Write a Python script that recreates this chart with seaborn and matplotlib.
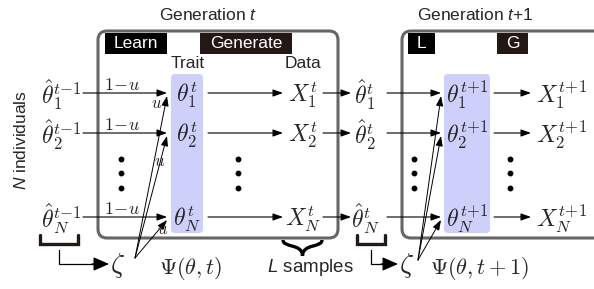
import matplotlib
matplotlib.use("Agg")
import matplotlib.pyplot as plt
import seaborn as sns
from matplotlib.patches import FancyBboxPatch, Rectangle, PathPatch
from matplotlib.path import Path

sns.set_theme(style="white")
plt.rcParams['font.family'] = ['Liberation Sans', 'DejaVu Sans']
plt.rcParams['font.sans-serif'] = ['Liberation Sans']
plt.rcParams['mathtext.fontset'] = 'cm'
plt.rcParams['mathtext.it'] = 'Liberation Sans:italic'
plt.rcParams['mathtext.rm'] = 'Liberation Sans'

# diagram content
subs = ["1", "2", "N"]
gen_titles = [r"Generation $t$", r"Generation $t$+1"]
learn_tags = ["Learn", "L"]
gen_tags = ["Generate", "G"]
prev_sup = [r"t\!-\!1", "t"]
cur_sup = ["t", r"t\!+\!1"]
psi_labels = [r"$\Psi(\theta, t)$", r"$\Psi(\theta, t+1)$"]

# layout (pixel coords)
row_y = [95, 135, 219]
dot_y = [159, 173, 188]
box_left = [98, 402]
box_right = [338, 640]
hat_x = [61, 365]
trait_x = [187, 467]
trait_w = [32, 46]
data_x = [303, 562]
arr1 = [(83, 167), (387, 441)]
arr2 = [(208, 283), (494, 531)]
dots_x = [(121, 238), (414, 510)]
zeta_x = [118, 407]
zeta_tip = [(135, 258), (418, 260)]
psi_x = [190, 480]
learn_box = [(105, 62), (408, 27)]
gen_box = [(200, 92), (497, 31)]
title_x = [208, 475]
brack = [(40, 78, 59), (357, 385, 371)]

fig = plt.figure(figsize=(5.94, 2.89), dpi=100)
ax = fig.add_axes([0, 0, 1, 1])
ax.set_xlim(0, 594)
ax.set_ylim(289, 0)
ax.axis("off")

MS = 17  # math size


def arrow(x0, y0, x1, y1, lw=0.8):
    ax.annotate("", xy=(x1, y1), xytext=(x0, y0),
                arrowprops=dict(arrowstyle="-|>,head_length=0.5,head_width=0.18",
                                lw=lw, color="black", shrinkA=0, shrinkB=0))


ax.text(21, 140, r"$N$ individuals", rotation=90, ha="center", va="center",
        fontsize=12.5, math_fontfamily='custom')

for g in range(2):
    # generation box
    ax.add_patch(FancyBboxPatch((box_left[g], 31), box_right[g] - box_left[g], 207,
                                boxstyle="round,pad=0,rounding_size=9", fc="none",
                                ec="#666666", lw=2.2))
    ax.text(title_x[g], 15, gen_titles[g], ha="center", va="center", fontsize=12.5,
            math_fontfamily='custom')
    lx0, lw_ = learn_box[g]
    ax.add_patch(Rectangle((lx0, 33), lw_, 21, fc="black", ec="none"))
    ax.text(lx0 + lw_ / 2, 44, learn_tags[g], color="white",
            ha="center", va="center", fontsize=12.5)
    gx, gw = gen_box[g]
    ax.add_patch(Rectangle((gx, 33), gw, 21, fc="#231815", ec="none"))
    ax.text(gx + gw / 2, 44, gen_tags[g], color="white", ha="center", va="center",
            fontsize=12.5)

    # trait column
    tx = trait_x[g]
    pw = trait_w[g]
    ax.add_patch(FancyBboxPatch((tx - pw / 2, 74), pw, 159,
                                boxstyle="round,pad=0,rounding_size=4", fc="#cfcffb", ec="none"))
    xx = data_x[g]
    if g == 0:
        ax.text(188, 64, "Trait", ha="center", va="center", fontsize=12.5)
        ax.text(303, 64, "Data", ha="center", va="center", fontsize=12.5)

    for s, y in zip(subs, row_y):
        ax.text(hat_x[g], y, rf"$\hat{{\theta}}_{{{s}}}^{{{prev_sup[g]}}}$", ha="center",
                va="center", fontsize=MS)
        ax.text(tx, y, rf"$\theta_{{{s}}}^{{{cur_sup[g]}}}$", ha="center", va="center",
                fontsize=MS)
        ax.text(xx, y, rf"$X_{{{s}}}^{{{cur_sup[g]}}}$", ha="center", va="center",
                fontsize=MS)
        arrow(arr1[g][0], y - 2, arr1[g][1], y - 2)
        if g == 0:
            ax.text(122, y - 10, r"$1\!-\!u$", ha="center", va="center", fontsize=13)
        arrow(arr2[g][0], y - 2, arr2[g][1], y - 2)
    # dots
    for dx in dots_x[g]:
        for y in dot_y:
            ax.plot(dx, y, "o", color="black", ms=3.2)

    # zeta and links
    zx = zeta_x[g]
    ax.text(zx, 266, r"$\zeta$", ha="center", va="center", fontsize=MS + 3)
    ax.text(psi_x[g], 268, psi_labels[g], ha="center", va="center", fontsize=MS - 1)
    for y in row_y:
        arrow(zeta_tip[g][0], zeta_tip[g][1], arr1[g][1], y + 1, lw=0.7)
    if g == 0:
        ax.text(157, 103, r"$u$", ha="center", va="center", fontsize=12)
        ax.text(160, 161, r"$u$", ha="center", va="center", fontsize=12)
        ax.text(163, 229, r"$u$", ha="center", va="center", fontsize=12)

    # bracket under theta_hat_N and L-arrow
    bx0, bx1, lx = brack[g]
    ax.plot([bx0, bx0, bx1, bx1], [235, 244, 244, 235], color="#231815", lw=2.4,
            solid_joinstyle="miter")
    ax.plot([lx, lx, zx - 24], [250, 264, 264], color="black", lw=0.9)
    ax.annotate("", xy=(zx - 9, 264), xytext=(zx - 26, 264),
                arrowprops=dict(arrowstyle="-|>,head_length=0.8,head_width=0.35",
                                lw=0.9, color="black", shrinkA=0, shrinkB=0))

# X -> theta_hat arrows between generations
for y in row_y:
    arrow(323, y - 2, 351, y - 2)

# curly brace under the data column
bx, by, bw, bh = 283, 240, 39, 16
verts = [(bx, by), (bx, by + bh * 0.5), (bx + bw * 0.5, by + bh * 0.2), (bx + bw * 0.5, by + bh),
         (bx + bw * 0.5, by + bh * 0.2), (bx + bw, by + bh * 0.5), (bx + bw, by)]
codes = [Path.MOVETO, Path.CURVE4, Path.CURVE4, Path.CURVE4, Path.CURVE4, Path.CURVE4, Path.CURVE4]
ax.add_patch(PathPatch(Path(verts, codes), fc="none", ec="black", lw=2.4))
ax.text(310, 268, r"$L$ samples", ha="center", va="center", fontsize=13.5,
        math_fontfamily='custom')

fig.savefig("out.png", dpi=100, facecolor="white")
